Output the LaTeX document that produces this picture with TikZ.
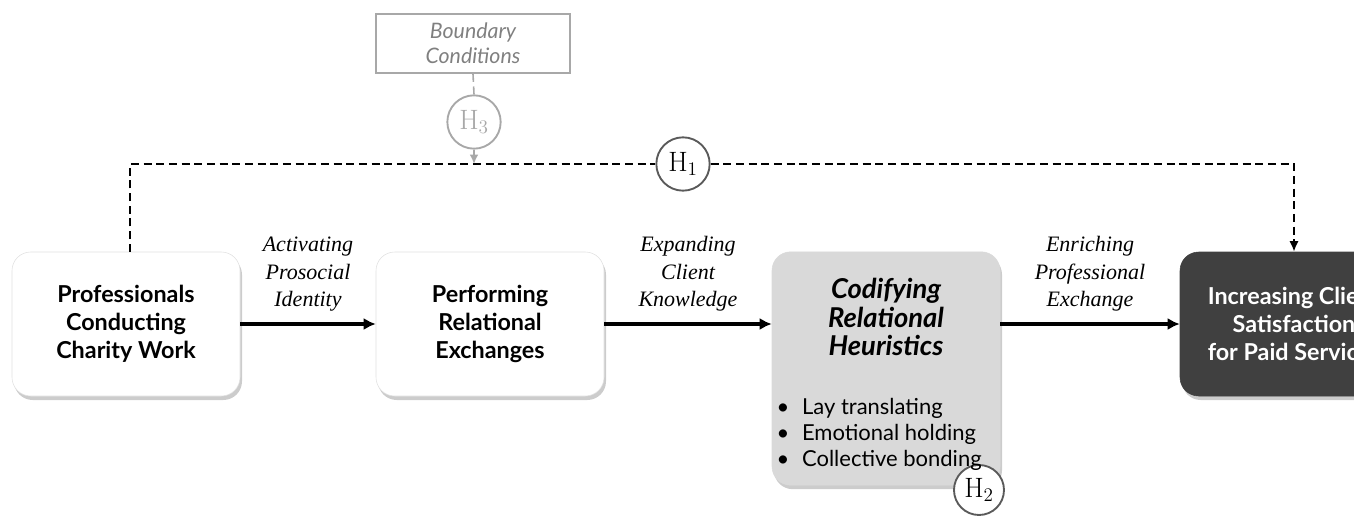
\documentclass[tikz,border=0pt]{standalone}
\usepackage{fontspec}
\newfontfamily\latofont{Lato}
\newfontfamily\timesfont{Liberation Serif}
\usetikzlibrary{arrows.meta,shadows,positioning}

\definecolor{boxgray}{HTML}{D9D9D9}
\definecolor{darkbox}{HTML}{404040}
\definecolor{condgray}{HTML}{A8A8A8}
\definecolor{hgray}{HTML}{5A5A5A}

\tikzstyle{stage}    = [rounded corners=14pt, minimum width=171pt, minimum height=108pt, align=center, fill=white, draw=black!12, drop shadow={shadow xshift=1.5pt, shadow yshift=-3pt, opacity=0.4}, font=\latofont\bfseries\fontsize{17.5}{21}\selectfont]
\tikzstyle{hyp}      = [circle, draw=hgray, line width=1.4pt, fill=white, minimum size=40pt, inner sep=0pt, font=\fontsize{21}{22}\selectfont]
\tikzstyle{flow}     = [line width=2.6pt, -{Latex[length=9pt,width=9pt]}]
\tikzstyle{linktext} = [align=center, font=\timesfont\itshape\fontsize{16.5}{20.5}\selectfont]
\tikzstyle{dashline} = [line width=1.5pt, dash pattern=on 6pt off 3.5pt]

\begin{document}
\begin{tikzpicture}[x=0.75pt,y=-0.75pt]
        \useasboundingbox (0,0) rectangle (1354,517);
        \clip (0,0) rectangle (1354,517);

        \node[stage] (prof) at (126,324) {Professionals\\Conducting\\Charity Work};
        \node[stage] (perf) at (490,324) {Performing\\Relational\\Exchanges};
        \node[stage, fill=boxgray, draw=boxgray, minimum height=175pt] (codif) at (886,368.5) {};
        \node[stage, fill=darkbox, draw=darkbox, text=white] (incr) at (1294,324) {Increasing Client\\Satisfaction\\for Paid Services};

        \node[hyp, minimum size=37.5pt] (h2) at (979,490) {$\mathrm{H}_2$};
        \node[align=center, font=\latofont\bfseries\itshape\fontsize{20.5}{21.5}\selectfont] (codiftitle) at (886,317) {Codifying\\Relational\\Heuristics};
        \node[anchor=west, align=left, font=\latofont\fontsize{16.5}{19.5}\selectfont] (codiflist) at (772,434)
            {\makebox[19pt][l]{\textbullet}Lay translating\\\makebox[19pt][l]{\textbullet}Emotional holding\\\makebox[19pt][l]{\textbullet}Collective bonding};

        \node[draw=condgray, line width=1.5pt, minimum width=145pt, minimum height=44pt, align=center, text=black!50, font=\latofont\itshape\fontsize{16}{19}\selectfont] (bound) at (473,43.5) {Boundary\\Conditions};

        \node[hyp, draw=condgray, text=condgray] (h3) at (474,122) {$\mathrm{H}_3$};
        \node[hyp] (h1) at (683,164) {$\mathrm{H}_1$};

        \draw[flow] (prof) -- node[linktext, above=5pt] {Activating\\Prosocial\\Identity} (perf);
        \draw[flow] (perf.east) -- node[linktext, above=5pt] {Expanding\\Client\\Knowledge} (perf.east -| codif.west);
        \draw[flow] (codif.east |- incr) -- node[linktext, above=5pt] {Enriching\\Professional\\Exchange} (incr.west);

        \draw[dashline] ([xshift=3pt]prof.north) |- (h1.west);
        \draw[dashline, -{Latex[length=8pt,width=7pt]}] (h1.east) -| (incr.north);
        \draw[dashline, condgray, line width=1.2pt] (bound.south) -- (h3.north);
        \draw[dashline, condgray, line width=1.2pt, -{Latex[length=7pt,width=6.5pt]}] (h3.south) -- (h3.south |- h1);
\end{tikzpicture}
\end{document}
